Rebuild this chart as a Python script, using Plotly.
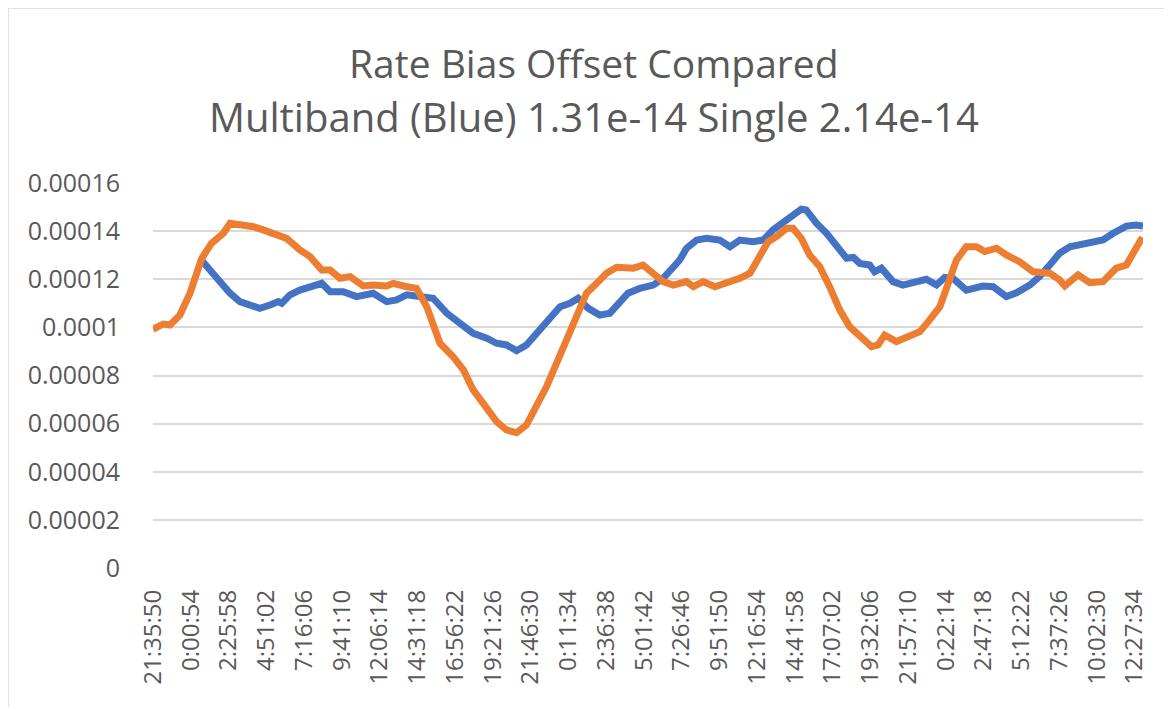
import plotly.graph_objects as go

# Category tick labels (every labelled time stamp on the x axis)
tick_labels = ["21:35:50", "0:00:54", "2:25:58", "4:51:02", "7:16:06", "9:41:10",
               "12:06:14", "14:31:18", "16:56:22", "19:21:26", "21:46:30", "0:11:34",
               "2:36:38", "5:01:42", "7:26:46", "9:51:50", "12:16:54", "14:41:58",
               "17:07:02", "19:32:06", "21:57:10", "0:22:14", "2:47:18", "5:12:22",
               "7:37:26", "10:02:30", "12:27:34"]
tick_pos = list(range(len(tick_labels)))

# Multiband (blue): position in label intervals, value
blue_pos = [1.24, 1.51, 1.77, 2.04, 2.30, 2.57, 2.83, 3.10, 3.32, 3.41, 3.63, 3.89,
            4.24, 4.47, 4.69, 5.04, 5.39, 5.83, 6.19, 6.45, 6.72, 7.16, 7.42, 7.78,
            8.13, 8.48, 8.84, 9.10, 9.36, 9.63, 9.89, 10.25, 10.51, 10.78, 11.04,
            11.26, 11.53, 11.83, 12.10, 12.36, 12.58, 12.89, 13.25, 13.51, 13.78,
            13.95, 14.13, 14.40, 14.66, 15.01, 15.28, 15.54, 15.89, 16.16, 16.42,
            16.78, 16.95, 17.17, 17.30, 17.57, 17.84, 18.10, 18.37, 18.55, 18.72,
            18.98, 19.11, 19.29, 19.60, 19.86, 20.13, 20.48, 20.75, 20.97, 21.19,
            21.54, 21.98, 22.25, 22.60, 22.87, 23.22, 23.48, 23.75, 24.01, 24.28,
            24.54, 24.90, 25.16, 25.43, 25.78, 26.04, 26.22]
blue_val = [12.87e-5, 12.38e-5, 11.97e-5, 11.42e-5, 11.07e-5, 10.89e-5, 10.79e-5,
            10.93e-5, 11.07e-5, 11.00e-5, 11.35e-5, 11.55e-5, 11.72e-5, 11.83e-5,
            11.48e-5, 11.48e-5, 11.28e-5, 11.42e-5, 11.07e-5, 11.14e-5, 11.35e-5,
            11.28e-5, 11.21e-5, 10.59e-5, 10.17e-5, 9.75e-5, 9.55e-5, 9.34e-5,
            9.27e-5, 9.03e-5, 9.27e-5, 9.89e-5, 10.44e-5, 10.86e-5, 11.00e-5,
            11.21e-5, 10.79e-5, 10.51e-5, 10.59e-5, 11.07e-5, 11.42e-5, 11.62e-5,
            11.76e-5, 12.04e-5, 12.52e-5, 12.80e-5, 13.29e-5, 13.63e-5, 13.70e-5,
            13.63e-5, 13.35e-5, 13.63e-5, 13.56e-5, 13.63e-5, 14.05e-5, 14.46e-5,
            14.60e-5, 14.91e-5, 14.88e-5, 14.33e-5, 13.91e-5, 13.42e-5, 12.87e-5,
            12.91e-5, 12.66e-5, 12.59e-5, 12.31e-5, 12.46e-5, 11.90e-5, 11.76e-5,
            11.86e-5, 12.00e-5, 11.76e-5, 12.08e-5, 12.04e-5, 11.55e-5, 11.72e-5,
            11.69e-5, 11.28e-5, 11.44e-5, 11.76e-5, 12.11e-5, 12.59e-5, 13.08e-5,
            13.35e-5, 13.42e-5, 13.56e-5, 13.63e-5, 13.91e-5, 14.21e-5, 14.25e-5,
            14.21e-5]

# Single (orange): position in label intervals, value
orange_pos = [0.00, 0.27, 0.45, 0.71, 0.98, 1.16, 1.29, 1.55, 1.86, 2.04, 2.39, 2.66,
              2.92, 3.28, 3.54, 3.89, 4.16, 4.47, 4.69, 4.95, 5.22, 5.57, 5.83, 6.19,
              6.36, 6.72, 6.98, 7.25, 7.60, 7.95, 8.22, 8.48, 8.84, 9.10, 9.36, 9.63,
              9.89, 10.16, 10.42, 10.69, 10.95, 11.22, 11.48, 11.75, 12.01, 12.28,
              12.58, 12.72, 12.98, 13.25, 13.51, 13.78, 14.13, 14.31, 14.57, 14.88,
              15.19, 15.54, 15.81, 16.07, 16.29, 16.51, 16.78, 16.95, 17.17, 17.39,
              17.66, 17.92, 18.19, 18.45, 18.72, 19.03, 19.20, 19.38, 19.69, 20.04,
              20.31, 20.57, 20.84, 21.06, 21.28, 21.54, 21.81, 22.03, 22.34, 22.60,
              22.95, 23.31, 23.75, 24.01, 24.15, 24.50, 24.81, 25.16, 25.51, 25.78,
              26.00, 26.20]
orange_val = [9.92e-5, 10.14e-5, 10.10e-5, 10.51e-5, 11.42e-5, 12.25e-5, 12.87e-5,
              13.49e-5, 13.91e-5, 14.33e-5, 14.25e-5, 14.18e-5, 14.05e-5, 13.84e-5,
              13.70e-5, 13.22e-5, 12.94e-5, 12.38e-5, 12.38e-5, 12.04e-5, 12.11e-5,
              11.72e-5, 11.76e-5, 11.72e-5, 11.83e-5, 11.69e-5, 11.62e-5, 10.86e-5,
              9.34e-5, 8.78e-5, 8.23e-5, 7.40e-5, 6.70e-5, 6.08e-5, 5.74e-5, 5.62e-5,
              5.94e-5, 6.70e-5, 7.53e-5, 8.51e-5, 9.48e-5, 10.59e-5, 11.42e-5,
              11.83e-5, 12.25e-5, 12.50e-5, 12.52e-5, 12.46e-5, 12.59e-5, 12.25e-5,
              11.90e-5, 11.76e-5, 11.90e-5, 11.69e-5, 11.90e-5, 11.69e-5, 11.83e-5,
              12.04e-5, 12.25e-5, 12.94e-5, 13.56e-5, 13.77e-5, 14.12e-5, 14.12e-5,
              13.70e-5, 13.01e-5, 12.52e-5, 11.69e-5, 10.72e-5, 10.03e-5, 9.61e-5,
              9.20e-5, 9.27e-5, 9.68e-5, 9.41e-5, 9.68e-5, 9.82e-5, 10.31e-5,
              10.86e-5, 11.83e-5, 12.80e-5, 13.35e-5, 13.35e-5, 13.15e-5, 13.29e-5,
              13.01e-5, 12.73e-5, 12.31e-5, 12.25e-5, 11.97e-5, 11.72e-5, 12.18e-5,
              11.86e-5, 11.90e-5, 12.46e-5, 12.59e-5, 13.15e-5, 13.74e-5]

y_ticks = [0, 0.00002, 0.00004, 0.00006, 0.00008, 0.0001, 0.00012, 0.00014, 0.00016]
y_tick_text = ["0", "0.00002", "0.00004", "0.00006", "0.00008", "0.0001",
               "0.00012", "0.00014", "0.00016"]

title_lines = ["Rate Bias Offset Compared",
               "Multiband (Blue) 1.31e-14 Single 2.14e-14"]

GRAY = "#595959"
FONT = "Open Sans"

fig = go.Figure()
fig.add_trace(go.Scatter(x=blue_pos, y=blue_val, mode="lines", name="Multiband",
                         line=dict(color="#4472C4", width=7, shape="linear")))
fig.add_trace(go.Scatter(x=orange_pos, y=orange_val, mode="lines", name="Single",
                         line=dict(color="#ED7D31", width=7, shape="linear")))

# page body adds an 8px offset; positions below are in screenshot pixels
OFF = 8
W, H = 1172, 707
L, R, T, B = 153 - OFF, W - (1143 - OFF), 183 - OFF, H - (568 - OFF)
pw, ph = W - L - R, H - T - B

def px_x(px):
    return (px - OFF - L) / pw

def px_y(py):
    return (H - B - (py - OFF)) / ph

fig.update_layout(
    width=W, height=H,
    margin=dict(l=L, r=R, t=T, b=B, pad=0),
    paper_bgcolor="white", plot_bgcolor="white",
    showlegend=False,
    font=dict(family=FONT, color=GRAY),
    xaxis=dict(range=[0, 26.22], tickmode="array", tickvals=tick_pos,
               ticktext=tick_labels, tickangle=-90, showgrid=False,
               zeroline=False, showline=False, ticks="",
               tickfont=dict(size=24, color=GRAY, family=FONT),
               ticklabelstandoff=16),
    yaxis=dict(range=[0, 0.00016], tickmode="array", tickvals=y_ticks,
               ticktext=y_tick_text, showgrid=True, gridcolor="#d9d9d9",
               gridwidth=1.5, zeroline=False, showline=False, ticks="",
               tickfont=dict(size=25, color=GRAY, family=FONT),
               ticklabelstandoff=32),
    annotations=[
        dict(text=title_lines[0], x=px_x(594), y=px_y(62), xref="paper", yref="paper",
             showarrow=False, xanchor="center", yanchor="middle",
             font=dict(size=39, color=GRAY, family=FONT)),
        dict(text=title_lines[1], x=px_x(594), y=px_y(117), xref="paper", yref="paper",
             showarrow=False, xanchor="center", yanchor="middle",
             font=dict(size=40, color=GRAY, family=FONT)),
    ],
    shapes=[
        dict(type="rect", xref="paper", yref="paper", x0=px_x(8), x1=px_x(1200),
             y0=px_y(730), y1=px_y(8), line=dict(color="#d9d9d9", width=1.5),
             fillcolor="rgba(0,0,0,0)", layer="below"),
    ],
)

fig.write_html("out.html")
